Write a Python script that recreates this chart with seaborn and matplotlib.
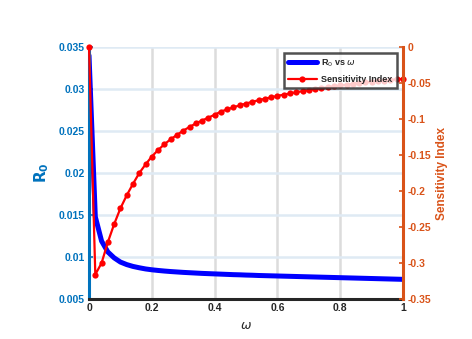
import numpy as np
import seaborn as sns
import matplotlib.pyplot as plt
from matplotlib.lines import Line2D

sns.set_style("white")
plt.rcParams['font.family'] = ['Liberation Sans', 'DejaVu Sans']

# omega grid 0 .. 1 step 0.02
omega = [round(0.02 * i, 2) for i in range(51)]

r0 = [0.03400, 0.01480, 0.01190, 0.01060, 0.00990, 0.00940, 0.00910, 0.00888,
      0.00872, 0.00858, 0.00848, 0.00840, 0.00833, 0.00827, 0.00822, 0.00817,
      0.00813, 0.00809, 0.00805, 0.00802, 0.00799, 0.00796, 0.00793, 0.00790,
      0.00788, 0.00785, 0.00783, 0.00780, 0.00778, 0.00776, 0.00774, 0.00772,
      0.00770, 0.00768, 0.00766, 0.00764, 0.00762, 0.00760, 0.00758, 0.00756,
      0.00754, 0.00752, 0.00750, 0.00748, 0.00746, 0.00744, 0.00742, 0.00740,
      0.00738, 0.00736, 0.00734]

sens = [0.0, -0.316, -0.300, -0.271, -0.246, -0.224, -0.206, -0.190, -0.175,
        -0.163, -0.152, -0.143, -0.135, -0.128, -0.122, -0.116, -0.111, -0.106,
        -0.102, -0.098, -0.094, -0.0896, -0.0865, -0.0836, -0.0809, -0.0784,
        -0.0760, -0.0738, -0.0717, -0.0697, -0.0678, -0.0660, -0.0643, -0.0627,
        -0.0612, -0.0597, -0.0583, -0.0570, -0.0557, -0.0545, -0.0533, -0.0522,
        -0.0512, -0.0501, -0.0491, -0.0482, -0.0473, -0.0464, -0.0456, -0.0448,
        -0.0440]

x_ticks = [0, 0.2, 0.4, 0.6, 0.8, 1]
x_labels = ['0', '0.2', '0.4', '0.6', '0.8', '1']
left_ticks = [0.005, 0.01, 0.015, 0.02, 0.025, 0.03, 0.035]
left_labels = ['0.005', '0.01', '0.015', '0.02', '0.025', '0.03', '0.035']
right_ticks = [-0.35, -0.3, -0.25, -0.2, -0.15, -0.1, -0.05, 0]
right_labels = ['-0.35', '-0.3', '-0.25', '-0.2', '-0.15', '-0.1', '-0.05', '0']

blue_ax = '#0072BD'
orange_ax = '#D95319'
dark = '#262626'

fig = plt.figure(figsize=(4.72, 3.39), dpi=100)
ax = fig.add_axes([0.1886, 0.118, 0.6653, 0.743])
ax2 = ax.twinx()

# grid first, under lines
ax.set_axisbelow(True)
for t in x_ticks[1:-1]:
    ax.axvline(t, color='#dcdcdc', lw=1.8, zorder=0)
for t in left_ticks[1:]:
    ax.axhline(t, color='#dfeaf4', lw=1.8, zorder=0)

sns.lineplot(x=omega, y=r0, ax=ax, color='blue', linewidth=3.6, legend=False)
sns.lineplot(x=omega, y=sens, ax=ax2, color='red', linewidth=1.6, marker='o',
             markersize=4.5, markeredgewidth=0, legend=False, clip_on=False)

ax.set_xlim(0, 1)
ax.set_ylim(0.005, 0.035)
ax2.set_ylim(-0.35, 0)

ax.set_xticks(x_ticks)
ax.set_xticklabels(x_labels, fontsize=7.5, fontweight='bold', color=dark)
ax.set_yticks(left_ticks)
ax.set_yticklabels(left_labels, fontsize=7.5, fontweight='bold', color=blue_ax)
ax2.set_yticks(right_ticks)
ax2.set_yticklabels(right_labels, fontsize=7.5, fontweight='bold', color=orange_ax)

ax.tick_params(axis='x', direction='in', length=3, width=1.2, color=dark, pad=3)
ax.tick_params(axis='y', direction='in', length=3, width=1.2, color=blue_ax, pad=3)
ax2.tick_params(axis='y', direction='in', length=3, width=1.2, color=orange_ax, pad=3)

for a in (ax, ax2):
    a.spines['top'].set_visible(False)
ax.spines['right'].set_visible(False)
ax.spines['left'].set_color(blue_ax)
ax.spines['left'].set_linewidth(2.2)
ax.spines['bottom'].set_color(dark)
ax.spines['bottom'].set_linewidth(2.2)
ax2.spines['left'].set_visible(False)
ax2.spines['bottom'].set_visible(False)
ax2.spines['right'].set_color(orange_ax)
ax2.spines['right'].set_linewidth(2.2)

ax.set_xlabel(r'$\omega$', fontsize=9, color=dark, labelpad=5)
ax.set_ylabel(r'$\mathbf{R_0}$', fontsize=11, color=blue_ax, labelpad=6)
ax2.set_ylabel('Sensitivity Index', fontsize=8.5, fontweight='bold', color=orange_ax, labelpad=4)

handles = [Line2D([], [], color='blue', lw=3.6),
           Line2D([], [], color='red', lw=1.6, marker='o', markersize=4.5, markeredgewidth=0)]
labels = [r'R$_0$ vs $\omega$', 'Sensitivity Index']
leg = ax2.legend(handles, labels, loc='upper right', bbox_to_anchor=(0.98, 0.975),
                 prop={'weight': 'bold', 'size': 6.5}, frameon=True, fancybox=False,
                 borderpad=0.45, handlelength=3.2, handletextpad=0.5, labelspacing=0.65,
                 borderaxespad=0)
leg.get_frame().set_edgecolor('#262626')
leg.get_frame().set_linewidth(1.8)

fig.savefig('out.png', dpi=100)
